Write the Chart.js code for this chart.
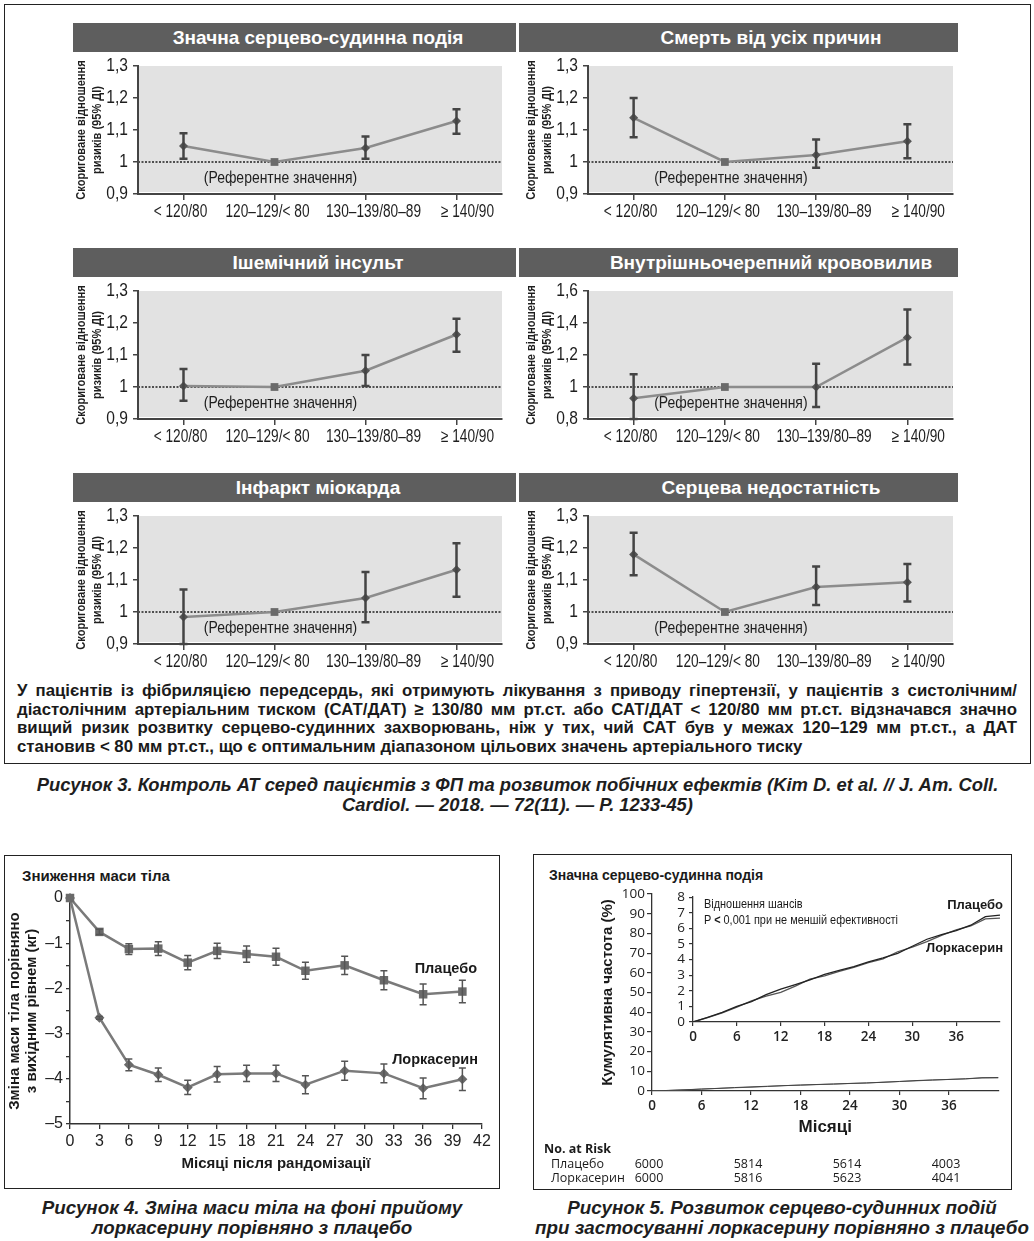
<!DOCTYPE html>
<html>
<head>
<meta charset="utf-8">
<script src="https://cdn.jsdelivr.net/npm/chart.js@4.4.0/dist/chart.umd.min.js"></script>
<style>
body{margin:0;background:#fff;font-family:'Liberation Sans',Arial,sans-serif;color:#1a1a1a;}
#page{position:relative;width:1034px;height:1241px;overflow:hidden;}
.box{position:absolute;border:1.5px solid #222;box-sizing:border-box;}
.hdr{position:absolute;height:29px;background:#5e5e5e;color:#fff;font-weight:bold;font-size:19px;line-height:29px;}
.hdr span{position:absolute;top:0;transform:translateX(-50%);white-space:nowrap;}
canvas{position:absolute;}
.para{position:absolute;left:17px;top:682px;width:1000px;font-weight:bold;font-size:16.8px;line-height:18.7px;}
.para div{text-align:justify;text-align-last:justify;white-space:nowrap;word-spacing:-1px;}
.para div.last{text-align-last:left;word-spacing:0;}
.cap{position:absolute;font-weight:bold;font-style:italic;font-size:18.8px;line-height:20px;text-align:center;color:#1e1e1e;white-space:nowrap;}
.lbl{position:absolute;white-space:nowrap;line-height:1;}
.cond{transform:scaleX(0.84);transform-origin:0 50%;}
</style>
</head>
<body>
<div id="page">
  <div class="box" style="left:4px;top:4px;width:1027px;height:760px"></div>
  <div class="para">
    <div>У пацієнтів із фібриляцією передсердь, які отримують лікування з приводу гіпертензії, у пацієнтів з систолічним/</div>
    <div>діастолічним артеріальним тиском (САТ/ДАТ) ≥ 130/80 мм рт.ст. або САТ/ДАТ &lt; 120/80 мм рт.ст. відзначався значно</div>
    <div>вищий ризик розвитку серцево-судинних захворювань, ніж у тих, чий САТ був у межах 120–129 мм рт.ст., а ДАТ</div>
    <div class="last">становив &lt; 80 мм рт.ст., що є оптимальним діапазоном цільових значень артеріального тиску</div>
  </div>
  <div class="cap" style="left:4px;top:775px;width:1027px;font-size:18.4px">Рисунок 3. Контроль АТ серед пацієнтів з ФП та розвиток побічних ефектів (Kim D. et al. // J. Am. Coll.<br>Cardiol. — 2018. — 72(11). — P. 1233-45)</div>

  <div class="box" style="left:4px;top:855px;width:496px;height:334px"></div>
  <div class="lbl" style="left:22px;top:868px;font-size:15px;font-weight:bold">Зниження маси тіла</div>
  <canvas id="weight" width="492" height="325" style="left:6px;top:860px;width:492px;height:325px"></canvas>
  <div class="lbl" style="right:557px;top:961px;font-size:14.5px;font-weight:bold">Плацебо</div>
  <div class="lbl" style="right:556px;top:1052px;font-size:14.5px;font-weight:bold">Лоркасерин</div>
  <div class="cap" style="left:-20px;top:1198px;width:544px">Рисунок 4. Зміна маси тіла на фоні прийому<br>лоркасерину порівняно з плацебо</div>

  <div class="box" style="left:533px;top:854px;width:479px;height:336px"></div>
  <div class="lbl" style="left:549px;top:868px;font-size:14px;font-weight:bold">Значна серцево-судинна подія</div>
  <canvas id="cumMain" width="470" height="308" style="left:538px;top:880px;width:470px;height:308px"></canvas>
  <canvas id="cumInset" width="350" height="165" style="left:660px;top:885px;width:350px;height:165px"></canvas>
  <div class="lbl cond" style="left:704px;top:897px;font-size:13px">Відношення шансів</div>
  <div class="lbl cond" style="left:704px;top:913px;font-size:13px">P <b>&lt;</b> 0,001 при не меншій ефективності</div>
  <div class="lbl" style="right:31px;top:898px;font-size:13px;font-weight:bold">Плацебо</div>
  <div class="lbl" style="right:31px;top:941px;font-size:13px;font-weight:bold">Лоркасерин</div>
  <div class="cap" style="left:512px;top:1198px;width:540px">Рисунок 5. Розвиток серцево-судинних подій<br>при застосуванні лоркасерину порівняно з плацебо</div>
</div>

<script>
// ---- Рисунок 3: категорії АТ і скориговані HR (95% ДІ)
var bpCategories = ['< 120/80', '120–129/< 80', '130–139/80–89', '≥ 140/90'];

var maceHR = [1.05, 1.0, 1.044, 1.128];
var maceLo = [1.01, null, 1.01, 1.088];
var maceHi = [1.09, null, 1.08, 1.165];

var deathHR = [1.138, 1.0, 1.022, 1.065];
var deathLo = [1.077, null, 0.982, 1.012];
var deathHi = [1.2, null, 1.07, 1.118];

var strokeHR = [1.003, 1.0, 1.051, 1.164];
var strokeLo = [0.957, null, 1.003, 1.11];
var strokeHi = [1.056, null, 1.1, 1.213];

var ichHR = [0.93, 1.0, 1.0, 1.31];
var ichLo = [0.8, null, 0.875, 1.14];
var ichHi = [1.08, null, 1.145, 1.485];

var miHR = [0.984, 1.0, 1.044, 1.132];
var miLo = [0.9, null, 0.968, 1.048];
var miHi = [1.07, null, 1.125, 1.215];

var hfHR = [1.18, 1.0, 1.078, 1.093];
var hfLo = [1.115, null, 1.022, 1.033];
var hfHi = [1.248, null, 1.142, 1.15];

// ---- Рисунок 4: зміна маси тіла, кг
var weightMonths = [0, 3, 6, 9, 12, 15, 18, 21, 24, 28, 32, 36, 40];
var placeboKg  = [0, -0.75, -1.13, -1.12, -1.43, -1.17, -1.24, -1.30, -1.61, -1.49, -1.82, -2.13, -2.07];
var placeboErr = [0, 0.06, 0.12, 0.15, 0.16, 0.17, 0.18, 0.19, 0.19, 0.2, 0.21, 0.23, 0.25];
var lorcKg  = [0, -2.65, -3.69, -3.91, -4.19, -3.90, -3.88, -3.88, -4.13, -3.82, -3.88, -4.21, -4.01];
var lorcErr = [0, 0.03, 0.13, 0.15, 0.16, 0.17, 0.18, 0.18, 0.2, 0.21, 0.21, 0.23, 0.25];

// ---- Рисунок 5: кумулятивна частота, %
var cumMonths = [0, 2, 4, 6, 8, 10, 12, 14, 16, 18, 20, 22, 24, 26, 28, 30, 32, 34, 36, 38, 40, 42];
var placeboCum = [0, 0.3, 0.62, 1.0, 1.3, 1.75, 2.1, 2.4, 2.7, 3.05, 3.3, 3.55, 3.85, 4.1, 4.4, 4.85, 5.3, 5.6, 5.85, 6.2, 6.75, 6.85];
var lorcCum    = [0, 0.28, 0.58, 0.95, 1.35, 1.65, 1.9, 2.3, 2.75, 2.95, 3.25, 3.5, 3.8, 4.05, 4.5, 4.8, 5.15, 5.55, 5.9, 6.15, 6.6, 6.65];

var riskMonths = [0, 12, 24, 36];
var riskPlacebo = [6000, 5814, 5614, 4003];
var riskLorc = [6000, 5816, 5623, 4041];

var SANS = "'Liberation Sans', Arial, sans-serif";
var OPEN = "'Open Sans', sans-serif";
var SQUEEZE = 0.82; // no narrow font installed, so squeeze Arial-like text
var catLabelShift = [-3, -7, 8, 11]; // the original spreads the category labels a little

Chart.defaults.animation = false;
Chart.defaults.font.family = SANS;
Chart.defaults.color = '#222';

// error bars through the chart scales
Chart.register({
  id: 'errorBars',
  afterDatasetsDraw: function(chart, args, opts) {
    var ctx = chart.ctx, x = chart.scales.x, y = chart.scales.y;
    ctx.save();
    (opts.sets || []).forEach(function(s) {
      ctx.strokeStyle = s.color;
      ctx.lineWidth = s.width;
      s.lo.forEach(function(l, i) {
        if (l == null) return;
        var px = x.getPixelForValue(s.x[i]);
        var y1 = y.getPixelForValue(l), y2 = y.getPixelForValue(s.hi[i]);
        ctx.beginPath();
        ctx.moveTo(px, y1); ctx.lineTo(px, y2);
        ctx.moveTo(px - s.cap, y1); ctx.lineTo(px + s.cap, y1);
        ctx.moveTo(px - s.cap, y2); ctx.lineTo(px + s.cap, y2);
        ctx.stroke();
      });
    });
    ctx.restore();
  }
});

function fmtComma(v) {
  return String(Math.round(v * 10) / 10).replace('.', ',');
}

function condText(ctx, text, x, y, font, align, rot, sq) {
  ctx.save();
  ctx.translate(x, y);
  if (rot) ctx.rotate(rot);
  ctx.scale(sq || SQUEEZE, 1);
  ctx.font = font;
  ctx.textAlign = align || 'center';
  ctx.textBaseline = 'middle';
  ctx.fillStyle = '#1e1e1e';
  ctx.fillText(text, 0, 0);
  ctx.restore();
}

var panelBg = {
  id: 'panelBg',
  beforeDraw: function(chart) {
    var a = chart.chartArea, ctx = chart.ctx;
    ctx.save();
    ctx.fillStyle = '#e2e2e2';
    ctx.fillRect(a.left, a.top, a.right - a.left, a.bottom - a.top - 2);
    ctx.restore();
  }
};

var refLine = {
  id: 'refLine',
  beforeDatasetsDraw: function(chart) {
    var ctx = chart.ctx, a = chart.chartArea;
    var py = chart.scales.y.getPixelForValue(1);
    ctx.save();
    ctx.strokeStyle = '#505050';
    ctx.lineWidth = 2;
    ctx.setLineDash([2, 1.5]);
    ctx.beginPath(); ctx.moveTo(a.left, py); ctx.lineTo(a.right, py); ctx.stroke();
    ctx.restore();
    condText(ctx, '(Референтне значення)', chart.scales.x.getPixelForValue(1) + 6, py + 16, '17px ' + SANS);
  }
};

// tick labels and axis title, squeezed to look like the narrow original
var panelText = {
  id: 'panelText',
  afterDraw: function(chart) {
    var ctx = chart.ctx, a = chart.chartArea, x = chart.scales.x, y = chart.scales.y;
    bpCategories.forEach(function(c, i) {
      condText(ctx, c, x.getPixelForValue(i) + catLabelShift[i], a.bottom + 18, '18px ' + SANS, 'center', 0, 0.76);
    });
    y.ticks.forEach(function(t) {
      condText(ctx, fmtComma(t.value), a.left - 10, y.getPixelForValue(t.value), '19px ' + SANS, 'right');
    });
    var cy = (a.top + a.bottom) / 2;
    condText(ctx, 'Скориговане відношення', a.left - 57, cy, 'bold 13.5px ' + SANS, 'center', -Math.PI / 2);
    condText(ctx, 'ризиків (95% ДІ)', a.left - 41, cy, 'bold 13.5px ' + SANS, 'center', -Math.PI / 2);
  }
};

var panels = [
  {title: 'Значна серцево-судинна подія', hr: maceHR, lo: maceLo, hi: maceHi, min: 0.9, max: 1.3, step: 0.1},
  {title: 'Смерть від усіх причин', hr: deathHR, lo: deathLo, hi: deathHi, min: 0.9, max: 1.3, step: 0.1},
  {title: 'Ішемічний інсульт', hr: strokeHR, lo: strokeLo, hi: strokeHi, min: 0.9, max: 1.3, step: 0.1},
  {title: 'Внутрішньочерепний крововилив', hr: ichHR, lo: ichLo, hi: ichHi, min: 0.8, max: 1.6, step: 0.2},
  {title: 'Інфаркт міокарда', hr: miHR, lo: miLo, hi: miHi, min: 0.9, max: 1.3, step: 0.1},
  {title: 'Серцева недостатність', hr: hfHR, lo: hfLo, hi: hfHi, min: 0.9, max: 1.3, step: 0.1}
];

var page = document.getElementById('page');
panels.forEach(function(p, i) {
  var row = Math.floor(i / 2), col = i % 2;
  var hdr = document.createElement('div');
  hdr.className = 'hdr';
  hdr.style.left = (col ? 519 : 73) + 'px';
  hdr.style.width = (col ? 439 : 443) + 'px';
  hdr.style.top = (23 + 225 * row) + 'px';
  hdr.innerHTML = '<span style="left:' + (col ? 252 : 245) + 'px">' + p.title + '</span>';
  page.appendChild(hdr);

  var cv = document.createElement('canvas');
  cv.width = 455; cv.height = 175;
  cv.style.left = (col ? 500 : 50) + 'px';
  cv.style.top = (56 + 225 * row) + 'px';
  cv.style.width = '455px'; cv.style.height = '175px';
  page.appendChild(cv);

  new Chart(cv, {
    type: 'line',
    data: {
      labels: bpCategories,
      datasets: [{
        data: p.hr,
        borderColor: '#8c8c8c',
        borderWidth: 2.5,
        pointStyle: ['rectRot', 'rect', 'rectRot', 'rectRot'],
        pointRadius: [4.5, 5.5, 4.5, 4.5],
        pointBackgroundColor: ['#555', '#6a6a6a', '#555', '#555'],
        pointBorderWidth: 0,
        clip: false
      }]
    },
    options: {
      responsive: false,
      layout: {autoPadding: false, padding: {top: 10, right: col ? 2 : 3, left: 0, bottom: 0}},
      plugins: {
        legend: {display: false}, tooltip: {enabled: false},
        errorBars: {sets: [{x: [0, 1, 2, 3], lo: p.lo, hi: p.hi, color: '#444', width: 2.5, cap: 4}]}
      },
      scales: {
        x: {
          offset: true,
          afterFit: function(s) { s.height = 37; },
          grid: {drawOnChartArea: false, offset: false, tickLength: 6, color: '#444', lineWidth: 1.5},
          border: {color: '#444', width: 2},
          ticks: {display: false, autoSkip: false}
        },
        y: {
          min: p.min, max: p.max,
          afterFit: function(s) { s.width = 88; },
          grid: {drawOnChartArea: false, tickLength: 5, color: '#444', lineWidth: 1.5},
          border: {color: '#444', width: 2},
          ticks: {display: false, stepSize: p.step, autoSkip: false}
        }
      }
    },
    plugins: [panelBg, refLine, panelText]
  });
});

// ---- Рисунок 4
function pts(xs, ys) { return xs.map(function(m, i) { return {x: m, y: ys[i]}; }); }
function minus(v) { return v < 0 ? '–' + Math.abs(v) : String(v); }

new Chart(document.getElementById('weight'), {
  type: 'line',
  data: {
    datasets: [
      {data: pts(weightMonths, placeboKg), borderColor: '#7a7a7a', borderWidth: 2.5, pointStyle: 'rect', pointRadius: 6,
       pointBackgroundColor: '#6a6a6a', pointBorderWidth: 0, clip: false},
      {data: pts(weightMonths, lorcKg), borderColor: '#7a7a7a', borderWidth: 2.5, pointStyle: 'rectRot', pointRadius: 5,
       pointBackgroundColor: '#6a6a6a', pointBorderWidth: 0, clip: false}
    ]
  },
  options: {
    responsive: false,
    layout: {autoPadding: false, padding: {top: 38, right: 16, left: 0, bottom: 0}},
    plugins: {
      legend: {display: false}, tooltip: {enabled: false},
      errorBars: {sets: [
        {x: weightMonths, lo: placeboKg.map(function(v, i) { return i ? v - placeboErr[i] : null; }),
         hi: placeboKg.map(function(v, i) { return v + placeboErr[i]; }), color: '#555', width: 1.5, cap: 3.5},
        {x: weightMonths, lo: lorcKg.map(function(v, i) { return i ? v - lorcErr[i] : null; }),
         hi: lorcKg.map(function(v, i) { return v + lorcErr[i]; }), color: '#555', width: 1.5, cap: 3.5}
      ]}
    },
    scales: {
      x: {
        type: 'linear', min: 0, max: 42,
        afterFit: function(s) { s.height = 61; },
        grid: {drawOnChartArea: false, tickLength: 5, color: '#333', lineWidth: 1.3},
        border: {color: '#333', width: 1.5},
        ticks: {stepSize: 3, padding: 3, color: '#222', autoSkip: false, maxRotation: 0, font: {size: 16}},
        title: {display: true, text: 'Місяці після рандомізації', color: '#1a1a1a',
                font: {size: 15, weight: 'bold', lineHeight: 1.2}, padding: {top: 0, bottom: 12}}
      },
      y: {
        min: -5, max: 0,
        afterFit: function(s) { s.width = 64; },
        grid: {drawOnChartArea: false, tickLength: 4, color: '#333', lineWidth: 1.3},
        border: {color: '#333', width: 1.5},
        ticks: {stepSize: 0.5, padding: 3, color: '#222', autoSkip: false, font: {size: 16},
                callback: function(v) { return Number.isInteger(v) ? minus(v) : ''; }},
        title: {display: true, text: ['Зміна маси тіла порівняно', 'з вихідним рівнем (кг)'], color: '#1a1a1a',
                font: {size: 15, weight: 'bold', lineHeight: 1.13}, padding: {top: 0.5, bottom: 0}}
      }
    }
  }
});

// ---- Рисунок 5
var atRisk = {
  id: 'atRisk',
  afterDraw: function(chart) {
    var ctx = chart.ctx, x = chart.scales.x;
    ctx.save();
    ctx.fillStyle = '#1a1a1a';
    ctx.textBaseline = 'middle';
    ctx.textAlign = 'left';
    ctx.font = 'bold 12.5px ' + OPEN;
    ctx.fillText('No. at Risk', 6, 269);
    ctx.font = '12.5px ' + OPEN;
    ctx.fillText('Плацебо', 13, 284);
    ctx.fillText('Лоркасерин', 13, 298);
    ctx.textAlign = 'center';
    riskMonths.forEach(function(m, i) {
      var px = x.getPixelForValue(m) - 3;
      ctx.fillText(String(riskPlacebo[i]), px, 284);
      ctx.fillText(String(riskLorc[i]), px, 298);
    });
    ctx.restore();
  }
};

function upTo36(s) { s.ticks = s.ticks.filter(function(t) { return t.value <= 36; }); }

new Chart(document.getElementById('cumMain'), {
  type: 'line',
  data: {
    datasets: [
      {data: pts(cumMonths, placeboCum), borderColor: '#444', borderWidth: 1, pointRadius: 0},
      {data: pts(cumMonths, lorcCum), borderColor: '#666', borderWidth: 1, pointRadius: 0}
    ]
  },
  options: {
    responsive: false,
    layout: {autoPadding: false, padding: {top: 14, right: 9.5, left: 0, bottom: 48}},
    plugins: {legend: {display: false}, tooltip: {enabled: false}},
    scales: {
      x: {
        type: 'linear', min: 0, max: 42,
        afterBuildTicks: upTo36,
        afterFit: function(s) { s.height = 49; },
        grid: {drawOnChartArea: false, tickLength: 4, color: '#333', lineWidth: 1.2},
        border: {color: '#333', width: 1.3},
        ticks: {stepSize: 6, padding: 3, color: '#222', autoSkip: false, maxRotation: 0,
                font: {family: OPEN, size: 13.5, weight: '600'}},
        title: {display: true, text: 'Місяці', color: '#1a1a1a', font: {size: 17, weight: 'bold', lineHeight: 1.18},
                padding: {top: 0, bottom: 3}}
      },
      y: {
        min: 0, max: 100,
        afterFit: function(s) { s.width = 114; },
        grid: {drawOnChartArea: false, tickLength: 5, color: '#333', lineWidth: 1.2},
        border: {color: '#333', width: 1.3},
        ticks: {stepSize: 10, padding: 2, color: '#222', autoSkip: false, font: {family: OPEN, size: 13.5}},
        title: {display: true, text: 'Кумулятивна частота (%)', color: '#1a1a1a',
                font: {size: 15, weight: 'bold', lineHeight: 1.25}, padding: {top: 60, bottom: 0}}
      }
    }
  },
  plugins: [atRisk]
});

new Chart(document.getElementById('cumInset'), {
  type: 'line',
  data: {
    datasets: [
      {data: pts(cumMonths, placeboCum), borderColor: '#222', borderWidth: 1.3, pointRadius: 0},
      {data: pts(cumMonths, lorcCum), borderColor: '#555', borderWidth: 1.3, pointRadius: 0}
    ]
  },
  options: {
    responsive: false,
    layout: {autoPadding: false, padding: {top: 10, right: 10, left: 0, bottom: 0}},
    plugins: {legend: {display: false}, tooltip: {enabled: false}},
    scales: {
      x: {
        type: 'linear', min: 0, max: 42,
        afterBuildTicks: upTo36,
        afterFit: function(s) { s.height = 28; },
        grid: {drawOnChartArea: false, tickLength: 4, color: '#333', lineWidth: 1.2},
        border: {color: '#333', width: 1.3},
        ticks: {stepSize: 6, padding: 3, color: '#222', autoSkip: false, maxRotation: 0,
                font: {family: OPEN, size: 13.5, weight: '600'}}
      },
      y: {
        min: 0, max: 8,
        afterFit: function(s) { s.width = 33; },
        grid: {drawOnChartArea: false, tickLength: 4, color: '#333', lineWidth: 1.2},
        border: {color: '#333', width: 1.3},
        ticks: {stepSize: 1, padding: 4, color: '#222', autoSkip: false, font: {family: OPEN, size: 13.5}}
      }
    }
  }
});
</script>
</body>
</html>
